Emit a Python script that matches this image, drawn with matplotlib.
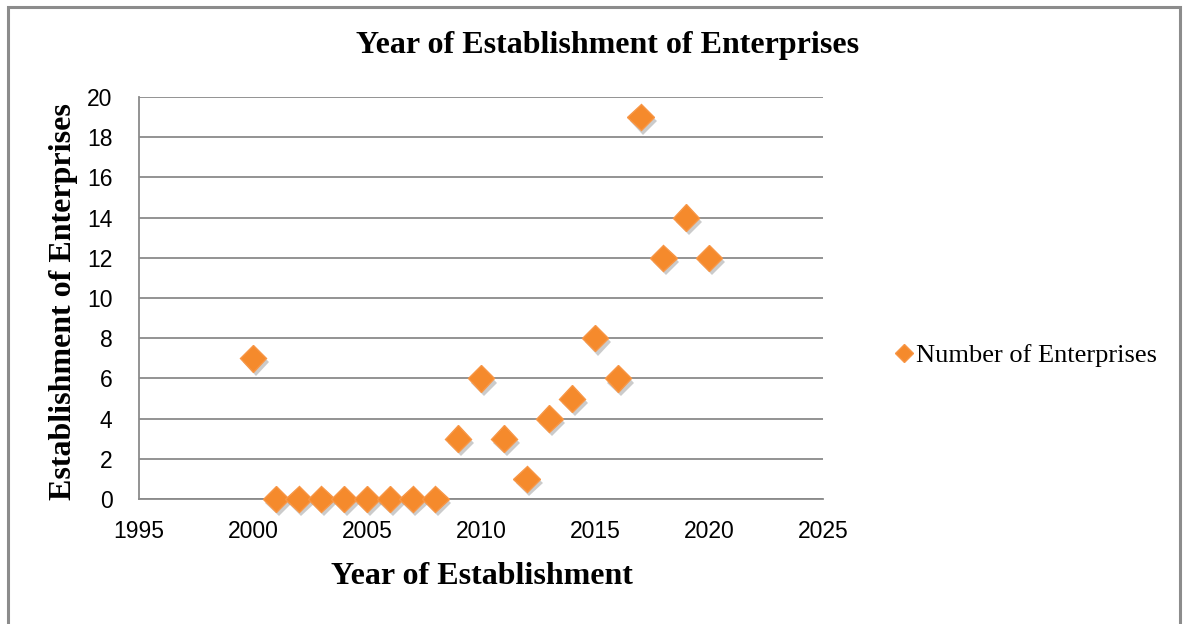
import matplotlib
matplotlib.use("Agg")
import matplotlib.pyplot as plt
import matplotlib.patheffects as pe
from matplotlib.patches import Rectangle
from matplotlib.lines import Line2D

years = [2000, 2001, 2002, 2003, 2004, 2005, 2006, 2007, 2008, 2009, 2010,
         2011, 2012, 2013, 2014, 2015, 2016, 2017, 2018, 2019, 2020]
counts = [7, 0, 0, 0, 0, 0, 0, 0, 0, 3, 6, 3, 1, 4, 5, 8, 6, 19, 12, 14, 12]
x_ticks = [1995, 2000, 2005, 2010, 2015, 2020, 2025]
y_ticks = list(range(0, 21, 2))

title = "Year of Establishment of Enterprises"
x_label = "Year of Establishment"
y_label = "Establishment of Enterprises"
series_name = "Number of Enterprises"

W, H = 1186, 624
fig = plt.figure(figsize=(W / 100, H / 100), dpi=100)
fig.patch.set_facecolor("white")

# chart frame
fig.patches.append(Rectangle((8 / W, -0.05), (1180 - 8) / W, 1.05 - 7 / H,
                             transform=fig.transFigure, fill=False,
                             edgecolor="#8c8c8c", linewidth=2.2))

ax = fig.add_axes([139 / W, 1 - 499 / H, (823 - 139) / W, (499 - 97) / H])
ax.set_xlim(1995, 2025)
ax.set_ylim(0, 20)
ax.set_xticks(x_ticks)
ax.set_yticks(y_ticks)
ax.grid(axis="y", color="#8a8a8a", linewidth=1.3)
ax.set_axisbelow(True)
for s in ("top", "right"):
    ax.spines[s].set_visible(False)
for s in ("left", "bottom"):
    ax.spines[s].set_color("#8a8a8a")
    ax.spines[s].set_linewidth(1.3)
ax.tick_params(length=0, labelsize=16.5)
ax.tick_params(axis="x", pad=15)
ax.tick_params(axis="y", pad=19)
for lab in ax.get_xticklabels() + ax.get_yticklabels():
    lab.set_fontfamily("Liberation Sans")

shadow = [pe.SimplePatchShadow(offset=(2, -3), shadow_rgbFace="#555555", alpha=0.3),
          pe.Normal()]
line, = ax.plot(years, counts, linestyle="none", marker="D", markersize=13.5,
                markerfacecolor="#f58a2c", markeredgecolor="#f79646",
                markeredgewidth=1, clip_on=False, zorder=3)
line.set_path_effects(shadow)

serif = "Liberation Serif"
fig.text(608 / W, 1 - 45 / H, title, ha="center", va="center",
         fontfamily=serif, fontweight="bold", fontsize=23)
fig.text(482 / W, 1 - 577 / H, x_label, ha="center", va="center",
         fontfamily=serif, fontweight="bold", fontsize=23)
fig.text(64 / W, 1 - 302 / H, y_label, ha="center", va="center", rotation=90,
         fontfamily=serif, fontweight="bold", fontsize=23)

handle = Line2D([], [], linestyle="none", marker="D", markersize=9,
                markerfacecolor="#f58a2c", markeredgecolor="#f79646")
fig.legend([handle], [series_name], loc="center left",
           bbox_to_anchor=(883 / W, 1 - 355 / H), frameon=False,
           prop={"family": serif, "size": 19}, handlelength=0.6,
           handletextpad=0.15, borderpad=0)

fig.savefig("out.png", dpi=100, facecolor="white")
